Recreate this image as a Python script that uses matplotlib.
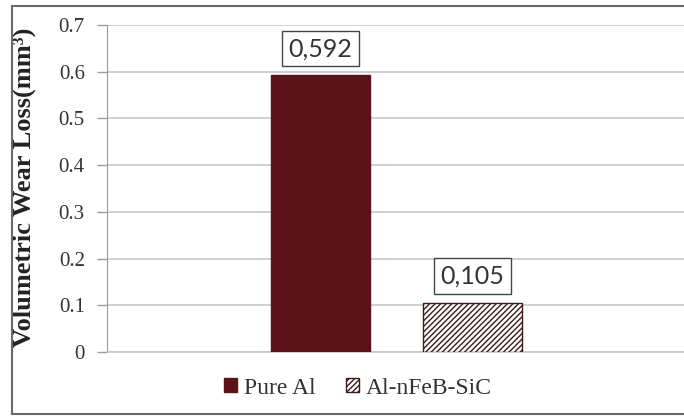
import matplotlib
matplotlib.use('Agg')
import matplotlib.pyplot as plt
from matplotlib.lines import Line2D
import numpy as np

# data
series = ['Pure Al', 'Al-nFeB-SiC']
values = [0.592, 0.105]
value_labels = ['0,592', '0,105']
yticks = [0, 0.1, 0.2, 0.3, 0.4, 0.5, 0.6, 0.7]
ytick_labels = ['0', '0.1', '0.2', '0.3', '0.4', '0.5', '0.6', '0.7']

maroon = '#5b1218'
serif = ['Liberation Serif', 'DejaVu Serif']
plt.rcParams['hatch.linewidth'] = 1.0

fig = plt.figure(figsize=(6.84, 4.19), dpi=100)
W, H = 684, 419
ax = fig.add_axes([107 / W, (H - 352) / H, 577 / W, 327 / H])

x = np.arange(len(series))
bars = ax.bar(x[0], values[0], width=0.65, color=maroon, edgecolor=maroon,
              label=series[0], zorder=3)
bars2 = ax.bar(x[1], values[1], width=0.65, color='white', edgecolor='#3a1a1c',
               hatch='//////', linewidth=1.0, label=series[1], zorder=3)

ax.set_xlim(-1.405, 2.391)
ax.set_ylim(0, 0.7)
ax.set_yticks(yticks)
ax.set_yticklabels(ytick_labels, fontfamily=serif, fontsize=15, color='#333333')
ax.set_xticks([])
ax.grid(axis='y', color='#c8c8c8', linewidth=1.2, zorder=0)
ax.tick_params(axis='y', length=7, width=1, color='#9a9a9a', pad=9)
for s in ['top', 'right']:
    ax.spines[s].set_visible(False)
ax.spines['left'].set_color('#9a9a9a')
ax.spines['bottom'].set_color('#c8c8c8')
ax.spines['bottom'].set_linewidth(1.2)

ax.set_ylabel('Volumetric Wear Loss(mm³)', fontfamily=serif, fontsize=19,
              fontweight='bold', color='#222222')
ax.yaxis.set_label_coords(-0.123, 0.505)

for xi, v, lab in zip(x, values, value_labels):
    ax.annotate(lab, (xi, v), xytext=(0, 11), textcoords='offset points',
                ha='center', va='bottom', fontsize=18, fontfamily='Lato',
                color='#333333',
                bbox=dict(boxstyle='square,pad=0.25', fc='white', ec='#444444', lw=1))

leg = fig.legend(handles=[bars, bars2], labels=series, loc='center',
                 bbox_to_anchor=(358 / W, (H - 388) / H), ncol=2, frameon=False,
                 prop={'family': serif, 'size': 17}, handlelength=0.55,
                 handleheight=0.55, handletextpad=0.3, columnspacing=1.3)
for t in leg.get_texts():
    t.set_color('#333333')

# outer chart border
border = '#6a6a6a'
fig.add_artist(Line2D([12 / W, 12 / W], [5 / H, 1 - 6 / H], color=border, lw=1.5, transform=fig.transFigure))
fig.add_artist(Line2D([12 / W, 1], [1 - 6 / H, 1 - 6 / H], color=border, lw=1.5, transform=fig.transFigure))
fig.add_artist(Line2D([12 / W, 1], [5 / H, 5 / H], color=border, lw=1.5, transform=fig.transFigure))

fig.savefig('out.png', dpi=100)
